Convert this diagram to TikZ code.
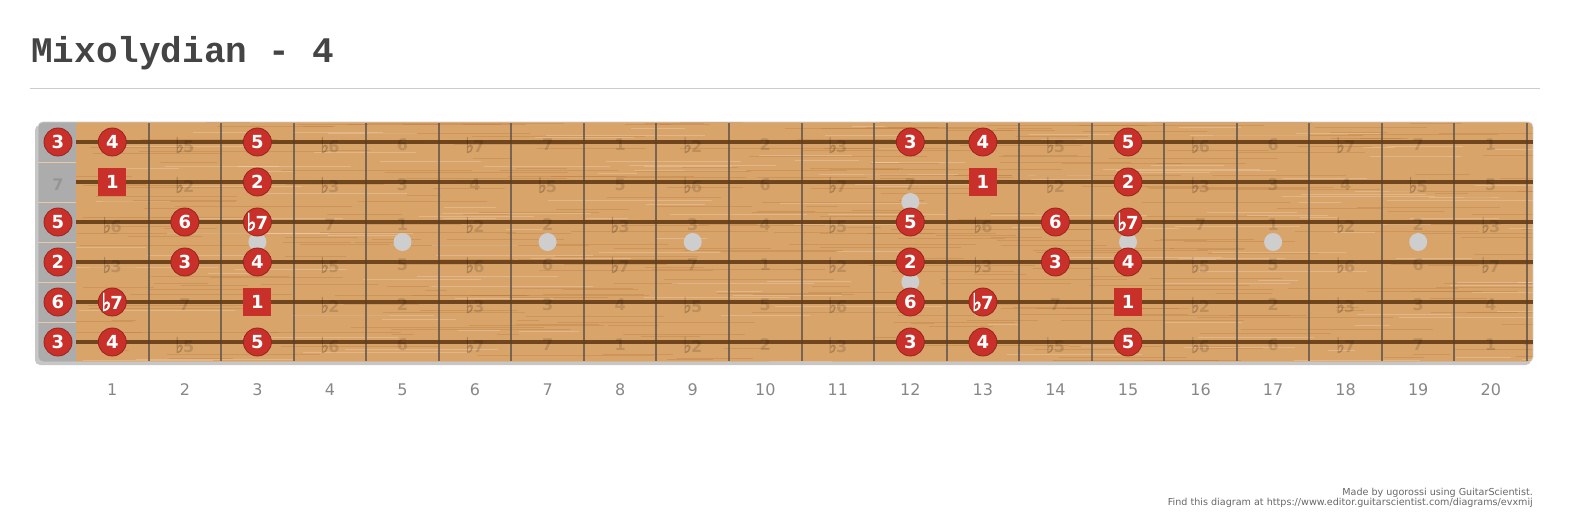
\documentclass[tikz,border=0pt]{standalone}
\usepackage{fontspec}
\setmainfont{DejaVu Sans}
\newfontfamily\titlefont{Liberation Mono}
\newfontfamily\flatfont[FakeBold=3]{DejaVu Sans}
\usetikzlibrary{positioning}
\definecolor{wood}{RGB}{217,164,106}
\definecolor{grain}{RGB}{180,115,55}
\definecolor{stringc}{RGB}{100,60,22}
\definecolor{fretc}{RGB}{95,85,75}
\definecolor{notered}{RGB}{201,48,42}
\definecolor{nutgray}{RGB}{172,172,172}
\definecolor{dotgray}{RGB}{206,206,206}
\definecolor{numgray}{RGB}{135,135,135}
\definecolor{titlegray}{RGB}{68,68,68}
\tikzstyle{note}=[circle,fill=notered,draw=notered!75!black,line width=0.8pt,minimum size=28pt,inner sep=0pt,text=white,font=\fontsize{18}{18}\selectfont\bfseries]
\tikzstyle{root}=[note,rectangle,draw=none,minimum size=28pt]
\tikzstyle{ghost}=[text=black,opacity=0.13,inner sep=0pt,font=\fontsize{16}{16}\selectfont\bfseries]
\tikzstyle{fretnum}=[text=numgray,font=\fontsize{16}{16}\selectfont]
\tikzstyle{inlay}=[circle,fill=dotgray,minimum size=18pt,inner sep=0pt]
\tikzstyle{credit}=[anchor=base east,text=gray!80!black,inner sep=0pt,font=\fontsize{9.6}{9.6}\selectfont]
\newcommand{\fl}{\raisebox{-0.05em}{\scalebox{1.15}[1.35]{\flatfont ♭}}\kern-0.05em}
\newcommand{\ivl}[1]{\ifcase#1 1\or \fl2\or 2\or \fl3\or 3\or 4\or \fl5\or 5\or \fl6\or 6\or \fl7\or 7\fi}
\newcommand{\fx}[1]{\ifnum#1=0 58\else \fpeval{39.75+72.55*#1}\fi}

\begin{document}
\begin{tikzpicture}[x=1pt,y=-1pt]
    \useasboundingbox (0,0) rectangle (1573,519);
    \node[anchor=base west,inner sep=0pt,text=titlegray,font=\titlefont\fontsize{36}{36}\selectfont\bfseries] (title) at (31,63) {Mixolydian - 4};
    \draw[gray!40,line width=1pt] (30,88) -- (1540,88);
    % board
    \fill[gray!45,rounded corners=5pt] (35,125) rectangle (1531,365);
    \begin{scope}
        \clip[rounded corners=5pt] (38,122) rectangle (1533,362);
        \fill[wood] (38,122) rectangle (1533,362);
        \pgfmathsetseed{11}
        \foreach \i in {1,...,340} {
            \pgfmathsetmacro\gx{60+rnd*1480}
            \pgfmathsetmacro\gy{122+rnd*240}
            \pgfmathsetmacro\gl{20+rnd*180}
            \draw[grain,opacity=0.3,line width=0.7pt] (\gx,\gy) -- ++(\gl,0);
        }
        \foreach \i in {1,...,160} {
            \pgfmathsetmacro\gx{60+rnd*1480}
            \pgfmathsetmacro\gy{122+rnd*240}
            \pgfmathsetmacro\gl{20+rnd*150}
            \draw[white,opacity=0.22,line width=0.8pt] (\gx,\gy) -- ++(\gl,0);
        }
        \fill[nutgray] (38,122) rectangle (76,362);
        \foreach \s in {1,...,5}
            \draw[wood!60!white,line width=0.5pt] (38,162+40*\s-40) -- (76,162+40*\s-40);
    \end{scope}
    \draw[gray!40,line width=0.8pt,rounded corners=5pt] (38,122) rectangle (1533,362);
    % frets and strings
    \foreach \k in {1,...,20}
        \draw[fretc,opacity=0.8,line width=2pt] (76+72.55*\k,123) -- (76+72.55*\k,361);
    \foreach \s in {1,...,6}
        \draw[stringc,opacity=0.9,line width=3.2pt] (76,142+40*\s-40) -- (1533,142+40*\s-40);
    % inlays
    \foreach \f in {3,5,7,9,15,17,19}
        \node[inlay] (dot\f) at (\fx{\f},242) {};
    \node[inlay] (dot12a) at (\fx{12},202) {};
    \node[inlay] (dot12b) at (\fx{12},282) {};
    % faint intervals, left out where a scale note sits
    \foreach \s/\op in {1/4,2/11,3/7,4/2,5/9,6/4}
        \foreach \f in {0,...,20} {
            \pgfmathtruncatemacro\iv{mod(\op+\f,12)}
            \pgfmathtruncatemacro\hide{((\f<4)||(\f>11&&\f<16))&&!(\iv==1||\iv==3||\iv==6||\iv==8||\iv==11)}
            \ifnum\hide=0
                \node[ghost] (g\s-\f) at (\fx{\f},145+40*\s-40) {\ivl{\iv}};
            \fi
        }
    % scale notes
    \foreach \s/\f/\t in {1/0/3,1/1/4,1/3/5,1/12/3,1/13/4,1/15/5,
        2/3/2,2/15/2,
        3/0/5,3/2/6,3/3/\fl7,3/12/5,3/14/6,3/15/\fl7,
        4/0/2,4/2/3,4/3/4,4/12/2,4/14/3,4/15/4,
        5/0/6,5/1/\fl7,5/12/6,5/13/\fl7,
        6/0/3,6/1/4,6/3/5,6/12/3,6/13/4,6/15/5}
        \node[note] (n\s-\f) at (\fx{\f},142+40*\s-40) {\t};
    \foreach \s/\f in {2/1,2/13,5/3,5/15}
        \node[root] (n\s-\f) at (\fx{\f},142+40*\s-40) {1};
    % fret numbers
    \foreach \f in {1,...,20}
        \node[fretnum] (fn\f) at (\fx{\f},390) {\f};
    \node[credit] (made) at (1533,495) {Made by ugorossi using GuitarScientist.};
    \node[credit] (find) at (1533,505) {Find this diagram at https://www.editor.guitarscientist.com/diagrams/evxmij};
\end{tikzpicture}
\end{document}
